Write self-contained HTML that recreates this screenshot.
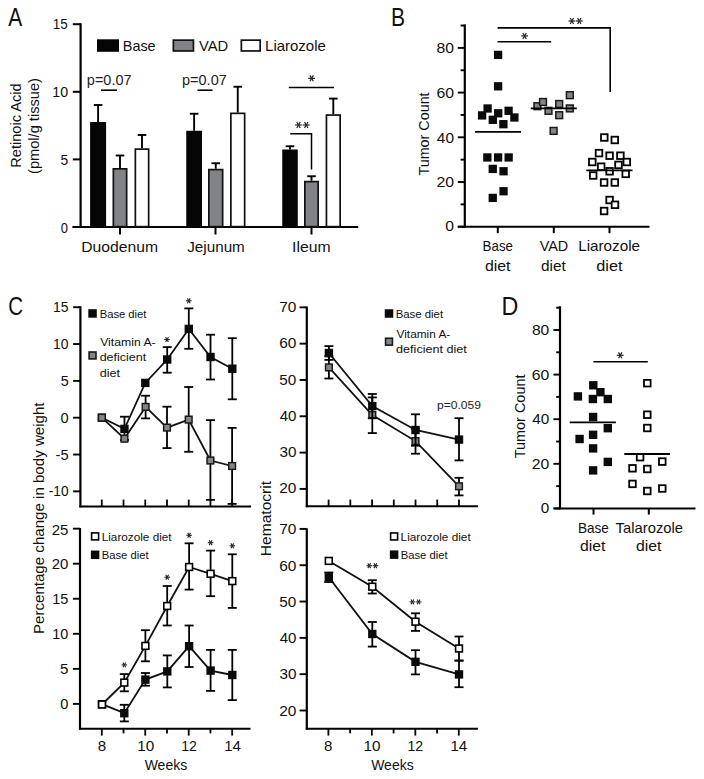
<!DOCTYPE html>
<html><head><meta charset="utf-8"><style>
html,body{margin:0;padding:0;background:#fff;}
svg{display:block;}
text{font-family:"Liberation Sans",sans-serif;}
</style></head><body>
<svg width="704" height="779" viewBox="0 0 704 779">
<rect width="704" height="779" fill="#fff"/>
<text x="8.26" y="25.60" font-size="25.3" fill="#111" textLength="13.98" lengthAdjust="spacingAndGlyphs">A</text>
<line x1="80.60" y1="23.20" x2="80.60" y2="228.00" stroke="#000" stroke-width="2.2" stroke-linecap="butt"/>
<line x1="72.50" y1="227.00" x2="358.20" y2="227.00" stroke="#000" stroke-width="2.0" stroke-linecap="butt"/>
<line x1="72.80" y1="24.20" x2="80.60" y2="24.20" stroke="#000" stroke-width="2.0" stroke-linecap="butt"/>
<line x1="72.80" y1="91.80" x2="80.60" y2="91.80" stroke="#000" stroke-width="2.0" stroke-linecap="butt"/>
<line x1="72.80" y1="159.40" x2="80.60" y2="159.40" stroke="#000" stroke-width="2.0" stroke-linecap="butt"/>
<line x1="72.80" y1="227.00" x2="80.60" y2="227.00" stroke="#000" stroke-width="2.0" stroke-linecap="butt"/>
<text x="52.77" y="29.49" font-size="14.5" fill="#111" textLength="14.99" lengthAdjust="spacingAndGlyphs">15</text>
<text x="52.32" y="96.99" font-size="14.5" fill="#111" textLength="15.84" lengthAdjust="spacingAndGlyphs">10</text>
<text x="60.44" y="164.79" font-size="14.5" fill="#111" textLength="7.74" lengthAdjust="spacingAndGlyphs">5</text>
<text x="60.69" y="232.99" font-size="14.5" fill="#111" textLength="7.21" lengthAdjust="spacingAndGlyphs">0</text>
<text transform="translate(20.80,167.68) rotate(-90)" x="0" y="0" font-size="15.5" fill="#111" textLength="84.21" lengthAdjust="spacingAndGlyphs">Retinoic Acid</text>
<text transform="translate(39.30,173.91) rotate(-90)" x="0" y="0" font-size="15.5" fill="#111" textLength="95.81" lengthAdjust="spacingAndGlyphs">(pmol/g tissue)</text>
<line x1="98.10" y1="122.00" x2="98.10" y2="105.00" stroke="#000" stroke-width="1.9" stroke-linecap="butt"/>
<line x1="93.80" y1="105.00" x2="102.40" y2="105.00" stroke="#000" stroke-width="1.9" stroke-linecap="butt"/>
<rect x="90.10" y="122.00" width="16.00" height="105.00" fill="#050505"/>
<line x1="120.00" y1="168.00" x2="120.00" y2="155.50" stroke="#000" stroke-width="1.9" stroke-linecap="butt"/>
<line x1="115.70" y1="155.50" x2="124.30" y2="155.50" stroke="#000" stroke-width="1.9" stroke-linecap="butt"/>
<rect x="113.35" y="168.85" width="13.30" height="57.80" fill="#828387" stroke="#111" stroke-width="1.7"/>
<line x1="142.00" y1="148.25" x2="142.00" y2="135.00" stroke="#000" stroke-width="1.9" stroke-linecap="butt"/>
<line x1="137.70" y1="135.00" x2="146.30" y2="135.00" stroke="#000" stroke-width="1.9" stroke-linecap="butt"/>
<rect x="135.35" y="149.10" width="13.30" height="77.55" fill="#fff" stroke="#111" stroke-width="1.7"/>
<line x1="194.12" y1="130.75" x2="194.12" y2="113.75" stroke="#000" stroke-width="1.9" stroke-linecap="butt"/>
<line x1="189.82" y1="113.75" x2="198.43" y2="113.75" stroke="#000" stroke-width="1.9" stroke-linecap="butt"/>
<rect x="186.25" y="130.75" width="15.75" height="96.25" fill="#050505"/>
<line x1="215.75" y1="168.75" x2="215.75" y2="163.25" stroke="#000" stroke-width="1.9" stroke-linecap="butt"/>
<line x1="211.45" y1="163.25" x2="220.05" y2="163.25" stroke="#000" stroke-width="1.9" stroke-linecap="butt"/>
<rect x="208.85" y="169.60" width="13.80" height="57.05" fill="#828387" stroke="#111" stroke-width="1.7"/>
<line x1="237.75" y1="112.50" x2="237.75" y2="86.75" stroke="#000" stroke-width="1.9" stroke-linecap="butt"/>
<line x1="233.45" y1="86.75" x2="242.05" y2="86.75" stroke="#000" stroke-width="1.9" stroke-linecap="butt"/>
<rect x="230.85" y="113.35" width="13.80" height="113.30" fill="#fff" stroke="#111" stroke-width="1.7"/>
<line x1="290.00" y1="149.50" x2="290.00" y2="146.25" stroke="#000" stroke-width="1.9" stroke-linecap="butt"/>
<line x1="285.70" y1="146.25" x2="294.30" y2="146.25" stroke="#000" stroke-width="1.9" stroke-linecap="butt"/>
<rect x="282.25" y="149.50" width="15.50" height="77.50" fill="#050505"/>
<line x1="311.50" y1="180.75" x2="311.50" y2="176.25" stroke="#000" stroke-width="1.9" stroke-linecap="butt"/>
<line x1="307.20" y1="176.25" x2="315.80" y2="176.25" stroke="#000" stroke-width="1.9" stroke-linecap="butt"/>
<rect x="304.85" y="181.60" width="13.30" height="45.05" fill="#828387" stroke="#111" stroke-width="1.7"/>
<line x1="333.30" y1="114.20" x2="333.30" y2="98.60" stroke="#000" stroke-width="1.9" stroke-linecap="butt"/>
<line x1="329.00" y1="98.60" x2="337.60" y2="98.60" stroke="#000" stroke-width="1.9" stroke-linecap="butt"/>
<rect x="326.45" y="115.05" width="13.70" height="111.60" fill="#fff" stroke="#111" stroke-width="1.7"/>
<line x1="120.00" y1="227.00" x2="120.00" y2="234.50" stroke="#000" stroke-width="2.0" stroke-linecap="butt"/>
<line x1="215.50" y1="227.00" x2="215.50" y2="234.50" stroke="#000" stroke-width="2.0" stroke-linecap="butt"/>
<line x1="311.50" y1="227.00" x2="311.50" y2="234.50" stroke="#000" stroke-width="2.0" stroke-linecap="butt"/>
<text x="81.21" y="251.50" font-size="15.5" fill="#111" textLength="76.82" lengthAdjust="spacingAndGlyphs">Duodenum</text>
<text x="187.26" y="251.50" font-size="15.5" fill="#111" textLength="57.54" lengthAdjust="spacingAndGlyphs">Jejunum</text>
<text x="292.05" y="251.50" font-size="15.5" fill="#111" textLength="38.49" lengthAdjust="spacingAndGlyphs">Ileum</text>
<rect x="97.00" y="39.30" width="22.00" height="12.50" fill="#050505"/>
<text x="122.82" y="50.60" font-size="14.5" fill="#111" textLength="32.82" lengthAdjust="spacingAndGlyphs">Base</text>
<rect x="173.35" y="40.15" width="20.10" height="10.80" fill="#828387" stroke="#111" stroke-width="1.7"/>
<text x="198.94" y="50.60" font-size="14.5" fill="#111" textLength="29.24" lengthAdjust="spacingAndGlyphs">VAD</text>
<rect x="241.35" y="40.15" width="18.80" height="10.80" fill="#fff" stroke="#111" stroke-width="1.7"/>
<text x="265.07" y="50.60" font-size="14.5" fill="#111" textLength="60.79" lengthAdjust="spacingAndGlyphs">Liarozole</text>
<text x="86.87" y="84.50" font-size="15" fill="#222" textLength="44.66" lengthAdjust="spacingAndGlyphs">p=0.07</text>
<line x1="101.00" y1="90.20" x2="117.00" y2="90.20" stroke="#000" stroke-width="1.6" stroke-linecap="butt"/>
<text x="182.07" y="84.50" font-size="15" fill="#222" textLength="44.66" lengthAdjust="spacingAndGlyphs">p=0.07</text>
<line x1="197.50" y1="90.20" x2="212.50" y2="90.20" stroke="#000" stroke-width="1.6" stroke-linecap="butt"/>
<line x1="308.25" y1="78.35" x2="315.05" y2="78.35" stroke="#222" stroke-width="1.2" stroke-linecap="butt"/>
<line x1="309.95" y1="75.41" x2="313.35" y2="81.29" stroke="#222" stroke-width="1.2" stroke-linecap="butt"/>
<line x1="313.35" y1="75.41" x2="309.95" y2="81.29" stroke="#222" stroke-width="1.2" stroke-linecap="butt"/>
<line x1="288.80" y1="87.50" x2="334.00" y2="87.50" stroke="#000" stroke-width="1.5" stroke-linecap="butt"/>
<line x1="295.10" y1="125.00" x2="301.90" y2="125.00" stroke="#222" stroke-width="1.2" stroke-linecap="butt"/>
<line x1="296.80" y1="122.06" x2="300.20" y2="127.94" stroke="#222" stroke-width="1.2" stroke-linecap="butt"/>
<line x1="300.20" y1="122.06" x2="296.80" y2="127.94" stroke="#222" stroke-width="1.2" stroke-linecap="butt"/>
<line x1="302.80" y1="125.00" x2="309.60" y2="125.00" stroke="#222" stroke-width="1.2" stroke-linecap="butt"/>
<line x1="304.50" y1="122.06" x2="307.90" y2="127.94" stroke="#222" stroke-width="1.2" stroke-linecap="butt"/>
<line x1="307.90" y1="122.06" x2="304.50" y2="127.94" stroke="#222" stroke-width="1.2" stroke-linecap="butt"/>
<polyline points="290.20,133.80 311.50,133.80 311.50,169.50" fill="none" stroke="#000" stroke-width="1.5" stroke-linejoin="miter"/>
<text x="391.07" y="25.60" font-size="25.3" fill="#111" textLength="14.04" lengthAdjust="spacingAndGlyphs">B</text>
<line x1="464.80" y1="24.40" x2="464.80" y2="227.70" stroke="#000" stroke-width="2.2" stroke-linecap="butt"/>
<line x1="457.80" y1="226.70" x2="649.50" y2="226.70" stroke="#000" stroke-width="2.0" stroke-linecap="butt"/>
<line x1="457.80" y1="226.70" x2="464.80" y2="226.70" stroke="#000" stroke-width="1.9" stroke-linecap="butt"/>
<line x1="460.60" y1="204.35" x2="464.80" y2="204.35" stroke="#000" stroke-width="1.9" stroke-linecap="butt"/>
<line x1="457.80" y1="182.00" x2="464.80" y2="182.00" stroke="#000" stroke-width="1.9" stroke-linecap="butt"/>
<line x1="460.60" y1="159.65" x2="464.80" y2="159.65" stroke="#000" stroke-width="1.9" stroke-linecap="butt"/>
<line x1="457.80" y1="137.30" x2="464.80" y2="137.30" stroke="#000" stroke-width="1.9" stroke-linecap="butt"/>
<line x1="460.60" y1="114.95" x2="464.80" y2="114.95" stroke="#000" stroke-width="1.9" stroke-linecap="butt"/>
<line x1="457.80" y1="92.60" x2="464.80" y2="92.60" stroke="#000" stroke-width="1.9" stroke-linecap="butt"/>
<line x1="460.60" y1="70.25" x2="464.80" y2="70.25" stroke="#000" stroke-width="1.9" stroke-linecap="butt"/>
<line x1="457.80" y1="47.90" x2="464.80" y2="47.90" stroke="#000" stroke-width="1.9" stroke-linecap="butt"/>
<line x1="460.60" y1="25.55" x2="464.80" y2="25.55" stroke="#000" stroke-width="1.9" stroke-linecap="butt"/>
<text x="436.52" y="53.19" font-size="14.5" fill="#111" textLength="17.50" lengthAdjust="spacingAndGlyphs">80</text>
<text x="436.40" y="97.89" font-size="14.5" fill="#111" textLength="17.62" lengthAdjust="spacingAndGlyphs">60</text>
<text x="436.85" y="142.59" font-size="14.5" fill="#111" textLength="17.16" lengthAdjust="spacingAndGlyphs">40</text>
<text x="436.40" y="187.29" font-size="14.5" fill="#111" textLength="17.62" lengthAdjust="spacingAndGlyphs">20</text>
<text x="445.29" y="231.39" font-size="14.5" fill="#111" textLength="8.73" lengthAdjust="spacingAndGlyphs">0</text>
<text transform="translate(429.40,175.52) rotate(-90)" x="0" y="0" font-size="15" fill="#111" textLength="83.12" lengthAdjust="spacingAndGlyphs">Tumor Count</text>
<line x1="497.80" y1="226.70" x2="497.80" y2="233.20" stroke="#000" stroke-width="2.0" stroke-linecap="butt"/>
<line x1="553.80" y1="226.70" x2="553.80" y2="233.20" stroke="#000" stroke-width="2.0" stroke-linecap="butt"/>
<line x1="609.50" y1="226.70" x2="609.50" y2="233.20" stroke="#000" stroke-width="2.0" stroke-linecap="butt"/>
<text x="482.61" y="251.10" font-size="14.5" fill="#111" textLength="30.39" lengthAdjust="spacingAndGlyphs">Base</text>
<text x="484.93" y="270.60" font-size="14.5" fill="#111" textLength="25.58" lengthAdjust="spacingAndGlyphs">diet</text>
<text x="539.74" y="251.10" font-size="14.5" fill="#111" textLength="28.52" lengthAdjust="spacingAndGlyphs">VAD</text>
<text x="540.96" y="270.60" font-size="14.5" fill="#111" textLength="24.76" lengthAdjust="spacingAndGlyphs">diet</text>
<text x="578.25" y="251.10" font-size="14.5" fill="#111" textLength="61.72" lengthAdjust="spacingAndGlyphs">Liarozole</text>
<text x="596.32" y="270.60" font-size="14.5" fill="#111" textLength="26.20" lengthAdjust="spacingAndGlyphs">diet</text>
<polyline points="497.60,27.90 610.20,27.90 610.20,92.00" fill="none" stroke="#000" stroke-width="1.6" stroke-linejoin="miter"/>
<line x1="497.60" y1="41.80" x2="551.20" y2="41.80" stroke="#000" stroke-width="1.6" stroke-linecap="butt"/>
<line x1="521.20" y1="35.90" x2="528.00" y2="35.90" stroke="#222" stroke-width="1.2" stroke-linecap="butt"/>
<line x1="522.90" y1="32.96" x2="526.30" y2="38.84" stroke="#222" stroke-width="1.2" stroke-linecap="butt"/>
<line x1="526.30" y1="32.96" x2="522.90" y2="38.84" stroke="#222" stroke-width="1.2" stroke-linecap="butt"/>
<line x1="568.50" y1="21.00" x2="575.30" y2="21.00" stroke="#222" stroke-width="1.2" stroke-linecap="butt"/>
<line x1="570.20" y1="18.06" x2="573.60" y2="23.94" stroke="#222" stroke-width="1.2" stroke-linecap="butt"/>
<line x1="573.60" y1="18.06" x2="570.20" y2="23.94" stroke="#222" stroke-width="1.2" stroke-linecap="butt"/>
<line x1="575.90" y1="21.00" x2="582.70" y2="21.00" stroke="#222" stroke-width="1.2" stroke-linecap="butt"/>
<line x1="577.60" y1="18.06" x2="581.00" y2="23.94" stroke="#222" stroke-width="1.2" stroke-linecap="butt"/>
<line x1="581.00" y1="18.06" x2="577.60" y2="23.94" stroke="#222" stroke-width="1.2" stroke-linecap="butt"/>
<rect x="493.95" y="50.75" width="8.30" height="8.30" fill="#0a0a0a"/>
<rect x="493.95" y="82.15" width="8.30" height="8.30" fill="#0a0a0a"/>
<rect x="483.45" y="104.35" width="8.30" height="8.30" fill="#0a0a0a"/>
<rect x="477.95" y="111.25" width="8.30" height="8.30" fill="#0a0a0a"/>
<rect x="494.05" y="109.15" width="8.30" height="8.30" fill="#0a0a0a"/>
<rect x="488.65" y="115.65" width="8.30" height="8.30" fill="#0a0a0a"/>
<rect x="504.45" y="106.65" width="8.30" height="8.30" fill="#0a0a0a"/>
<rect x="510.25" y="113.35" width="8.30" height="8.30" fill="#0a0a0a"/>
<rect x="499.25" y="120.05" width="8.30" height="8.30" fill="#0a0a0a"/>
<rect x="483.20" y="153.30" width="8.30" height="8.30" fill="#0a0a0a"/>
<rect x="493.95" y="153.30" width="8.30" height="8.30" fill="#0a0a0a"/>
<rect x="504.50" y="153.30" width="8.30" height="8.30" fill="#0a0a0a"/>
<rect x="488.60" y="164.75" width="8.30" height="8.30" fill="#0a0a0a"/>
<rect x="499.40" y="167.10" width="8.30" height="8.30" fill="#0a0a0a"/>
<rect x="499.40" y="187.10" width="8.30" height="8.30" fill="#0a0a0a"/>
<rect x="488.60" y="193.75" width="8.30" height="8.30" fill="#0a0a0a"/>
<line x1="475.10" y1="131.80" x2="521.10" y2="131.80" stroke="#000" stroke-width="1.8" stroke-linecap="butt"/>
<rect x="534.00" y="102.80" width="6.80" height="6.80" fill="#858585" stroke="#1a1a1a" stroke-width="1.5"/>
<rect x="539.60" y="98.60" width="6.80" height="6.80" fill="#858585" stroke="#1a1a1a" stroke-width="1.5"/>
<rect x="545.10" y="107.40" width="6.80" height="6.80" fill="#858585" stroke="#1a1a1a" stroke-width="1.5"/>
<rect x="555.80" y="100.60" width="6.80" height="6.80" fill="#858585" stroke="#1a1a1a" stroke-width="1.5"/>
<rect x="555.80" y="111.80" width="6.80" height="6.80" fill="#858585" stroke="#1a1a1a" stroke-width="1.5"/>
<rect x="566.40" y="91.80" width="6.80" height="6.80" fill="#858585" stroke="#1a1a1a" stroke-width="1.5"/>
<rect x="566.40" y="105.00" width="6.80" height="6.80" fill="#858585" stroke="#1a1a1a" stroke-width="1.5"/>
<rect x="550.20" y="127.50" width="6.80" height="6.80" fill="#858585" stroke="#1a1a1a" stroke-width="1.5"/>
<line x1="530.80" y1="108.40" x2="576.80" y2="108.40" stroke="#000" stroke-width="1.8" stroke-linecap="butt"/>
<rect x="601.00" y="134.20" width="6.60" height="6.60" fill="#fff" stroke="#000" stroke-width="1.8"/>
<rect x="611.50" y="136.70" width="6.60" height="6.60" fill="#fff" stroke="#000" stroke-width="1.8"/>
<rect x="595.70" y="149.80" width="6.60" height="6.60" fill="#fff" stroke="#000" stroke-width="1.8"/>
<rect x="606.30" y="152.40" width="6.60" height="6.60" fill="#fff" stroke="#000" stroke-width="1.8"/>
<rect x="617.10" y="152.40" width="6.60" height="6.60" fill="#fff" stroke="#000" stroke-width="1.8"/>
<rect x="589.00" y="158.70" width="6.60" height="6.60" fill="#fff" stroke="#000" stroke-width="1.8"/>
<rect x="623.50" y="158.70" width="6.60" height="6.60" fill="#fff" stroke="#000" stroke-width="1.8"/>
<rect x="597.90" y="163.40" width="6.60" height="6.60" fill="#fff" stroke="#000" stroke-width="1.8"/>
<rect x="615.20" y="161.60" width="6.60" height="6.60" fill="#fff" stroke="#000" stroke-width="1.8"/>
<rect x="606.30" y="168.00" width="6.60" height="6.60" fill="#fff" stroke="#000" stroke-width="1.8"/>
<rect x="589.90" y="172.20" width="6.60" height="6.60" fill="#fff" stroke="#000" stroke-width="1.8"/>
<rect x="622.40" y="170.60" width="6.60" height="6.60" fill="#fff" stroke="#000" stroke-width="1.8"/>
<rect x="600.80" y="179.20" width="6.60" height="6.60" fill="#fff" stroke="#000" stroke-width="1.8"/>
<rect x="611.50" y="179.20" width="6.60" height="6.60" fill="#fff" stroke="#000" stroke-width="1.8"/>
<rect x="606.30" y="196.70" width="6.60" height="6.60" fill="#fff" stroke="#000" stroke-width="1.8"/>
<rect x="611.70" y="201.50" width="6.60" height="6.60" fill="#fff" stroke="#000" stroke-width="1.8"/>
<rect x="600.80" y="207.70" width="6.60" height="6.60" fill="#fff" stroke="#000" stroke-width="1.8"/>
<line x1="586.30" y1="170.40" x2="632.50" y2="170.40" stroke="#000" stroke-width="1.8" stroke-linecap="butt"/>
<text x="8.16" y="315.30" font-size="25.3" fill="#111" textLength="14.82" lengthAdjust="spacingAndGlyphs">C</text>
<line x1="80.40" y1="306.20" x2="80.40" y2="507.30" stroke="#000" stroke-width="2.2" stroke-linecap="butt"/>
<line x1="79.30" y1="506.50" x2="251.00" y2="506.50" stroke="#000" stroke-width="2.1" stroke-linecap="butt"/>
<line x1="73.10" y1="307.21" x2="80.40" y2="307.21" stroke="#000" stroke-width="1.9" stroke-linecap="butt"/>
<line x1="73.10" y1="344.04" x2="80.40" y2="344.04" stroke="#000" stroke-width="1.9" stroke-linecap="butt"/>
<line x1="73.10" y1="380.87" x2="80.40" y2="380.87" stroke="#000" stroke-width="1.9" stroke-linecap="butt"/>
<line x1="73.10" y1="417.70" x2="80.40" y2="417.70" stroke="#000" stroke-width="1.9" stroke-linecap="butt"/>
<line x1="73.10" y1="454.53" x2="80.40" y2="454.53" stroke="#000" stroke-width="1.9" stroke-linecap="butt"/>
<line x1="73.10" y1="491.36" x2="80.40" y2="491.36" stroke="#000" stroke-width="1.9" stroke-linecap="butt"/>
<line x1="101.80" y1="499.60" x2="101.80" y2="506.50" stroke="#000" stroke-width="1.8" stroke-linecap="butt"/>
<line x1="123.53" y1="499.60" x2="123.53" y2="506.50" stroke="#000" stroke-width="1.8" stroke-linecap="butt"/>
<line x1="145.26" y1="499.60" x2="145.26" y2="506.50" stroke="#000" stroke-width="1.8" stroke-linecap="butt"/>
<line x1="166.99" y1="499.60" x2="166.99" y2="506.50" stroke="#000" stroke-width="1.8" stroke-linecap="butt"/>
<line x1="188.72" y1="499.60" x2="188.72" y2="506.50" stroke="#000" stroke-width="1.8" stroke-linecap="butt"/>
<line x1="210.45" y1="499.60" x2="210.45" y2="506.50" stroke="#000" stroke-width="1.8" stroke-linecap="butt"/>
<line x1="232.18" y1="499.60" x2="232.18" y2="506.50" stroke="#000" stroke-width="1.8" stroke-linecap="butt"/>
<text x="53.03" y="312.19" font-size="14.5" fill="#111" textLength="15.55" lengthAdjust="spacingAndGlyphs">15</text>
<text x="53.04" y="348.79" font-size="14.5" fill="#111" textLength="15.51" lengthAdjust="spacingAndGlyphs">10</text>
<text x="60.63" y="385.59" font-size="14.5" fill="#111" textLength="7.98" lengthAdjust="spacingAndGlyphs">5</text>
<text x="60.43" y="422.89" font-size="14.5" fill="#111" textLength="8.14" lengthAdjust="spacingAndGlyphs">0</text>
<text x="55.55" y="459.59" font-size="14.5" fill="#111" textLength="13.07" lengthAdjust="spacingAndGlyphs">-5</text>
<text x="48.69" y="496.39" font-size="14.5" fill="#111" textLength="19.85" lengthAdjust="spacingAndGlyphs">-10</text>
<polyline points="101.85,417.70 124.45,428.90 145.30,382.90 167.20,359.50 188.80,328.90 210.50,357.00 232.30,368.70" fill="none" stroke="#111" stroke-width="1.8" stroke-linejoin="miter"/>
<polyline points="101.85,417.65 124.45,438.70 145.60,406.90 167.00,427.60 188.70,419.60 210.40,460.50 232.10,466.00" fill="none" stroke="#111" stroke-width="1.8" stroke-linejoin="miter"/>
<line x1="124.45" y1="416.70" x2="124.45" y2="440.10" stroke="#000" stroke-width="1.8" stroke-linecap="butt"/>
<line x1="119.95" y1="416.70" x2="128.95" y2="416.70" stroke="#000" stroke-width="1.8" stroke-linecap="butt"/>
<line x1="119.95" y1="440.10" x2="128.95" y2="440.10" stroke="#000" stroke-width="1.8" stroke-linecap="butt"/>
<line x1="167.20" y1="347.10" x2="167.20" y2="372.70" stroke="#000" stroke-width="1.8" stroke-linecap="butt"/>
<line x1="162.70" y1="347.10" x2="171.70" y2="347.10" stroke="#000" stroke-width="1.8" stroke-linecap="butt"/>
<line x1="162.70" y1="372.70" x2="171.70" y2="372.70" stroke="#000" stroke-width="1.8" stroke-linecap="butt"/>
<line x1="188.80" y1="308.40" x2="188.80" y2="348.80" stroke="#000" stroke-width="1.8" stroke-linecap="butt"/>
<line x1="184.30" y1="308.40" x2="193.30" y2="308.40" stroke="#000" stroke-width="1.8" stroke-linecap="butt"/>
<line x1="184.30" y1="348.80" x2="193.30" y2="348.80" stroke="#000" stroke-width="1.8" stroke-linecap="butt"/>
<line x1="210.50" y1="334.70" x2="210.50" y2="379.50" stroke="#000" stroke-width="1.8" stroke-linecap="butt"/>
<line x1="206.00" y1="334.70" x2="215.00" y2="334.70" stroke="#000" stroke-width="1.8" stroke-linecap="butt"/>
<line x1="206.00" y1="379.50" x2="215.00" y2="379.50" stroke="#000" stroke-width="1.8" stroke-linecap="butt"/>
<line x1="232.30" y1="338.20" x2="232.30" y2="399.30" stroke="#000" stroke-width="1.8" stroke-linecap="butt"/>
<line x1="227.80" y1="338.20" x2="236.80" y2="338.20" stroke="#000" stroke-width="1.8" stroke-linecap="butt"/>
<line x1="227.80" y1="399.30" x2="236.80" y2="399.30" stroke="#000" stroke-width="1.8" stroke-linecap="butt"/>
<rect x="97.65" y="413.50" width="8.40" height="8.40" fill="#0a0a0a"/>
<rect x="120.25" y="424.70" width="8.40" height="8.40" fill="#0a0a0a"/>
<rect x="141.10" y="378.70" width="8.40" height="8.40" fill="#0a0a0a"/>
<rect x="163.00" y="355.30" width="8.40" height="8.40" fill="#0a0a0a"/>
<rect x="184.60" y="324.70" width="8.40" height="8.40" fill="#0a0a0a"/>
<rect x="206.30" y="352.80" width="8.40" height="8.40" fill="#0a0a0a"/>
<rect x="228.10" y="364.50" width="8.40" height="8.40" fill="#0a0a0a"/>
<line x1="145.60" y1="395.70" x2="145.60" y2="418.40" stroke="#000" stroke-width="1.8" stroke-linecap="butt"/>
<line x1="141.10" y1="395.70" x2="150.10" y2="395.70" stroke="#000" stroke-width="1.8" stroke-linecap="butt"/>
<line x1="141.10" y1="418.40" x2="150.10" y2="418.40" stroke="#000" stroke-width="1.8" stroke-linecap="butt"/>
<line x1="167.00" y1="406.70" x2="167.00" y2="448.10" stroke="#000" stroke-width="1.8" stroke-linecap="butt"/>
<line x1="162.50" y1="406.70" x2="171.50" y2="406.70" stroke="#000" stroke-width="1.8" stroke-linecap="butt"/>
<line x1="162.50" y1="448.10" x2="171.50" y2="448.10" stroke="#000" stroke-width="1.8" stroke-linecap="butt"/>
<line x1="188.70" y1="387.00" x2="188.70" y2="451.80" stroke="#000" stroke-width="1.8" stroke-linecap="butt"/>
<line x1="184.20" y1="387.00" x2="193.20" y2="387.00" stroke="#000" stroke-width="1.8" stroke-linecap="butt"/>
<line x1="184.20" y1="451.80" x2="193.20" y2="451.80" stroke="#000" stroke-width="1.8" stroke-linecap="butt"/>
<line x1="210.40" y1="420.10" x2="210.40" y2="499.90" stroke="#000" stroke-width="1.8" stroke-linecap="butt"/>
<line x1="205.90" y1="420.10" x2="214.90" y2="420.10" stroke="#000" stroke-width="1.8" stroke-linecap="butt"/>
<line x1="205.90" y1="499.90" x2="214.90" y2="499.90" stroke="#000" stroke-width="1.8" stroke-linecap="butt"/>
<line x1="232.10" y1="427.90" x2="232.10" y2="503.90" stroke="#000" stroke-width="1.8" stroke-linecap="butt"/>
<line x1="227.60" y1="427.90" x2="236.60" y2="427.90" stroke="#000" stroke-width="1.8" stroke-linecap="butt"/>
<line x1="227.60" y1="503.90" x2="236.60" y2="503.90" stroke="#000" stroke-width="1.8" stroke-linecap="butt"/>
<rect x="98.50" y="414.30" width="6.70" height="6.70" fill="#858585" stroke="#1a1a1a" stroke-width="1.5"/>
<rect x="121.10" y="435.35" width="6.70" height="6.70" fill="#858585" stroke="#1a1a1a" stroke-width="1.5"/>
<rect x="142.25" y="403.55" width="6.70" height="6.70" fill="#858585" stroke="#1a1a1a" stroke-width="1.5"/>
<rect x="163.65" y="424.25" width="6.70" height="6.70" fill="#858585" stroke="#1a1a1a" stroke-width="1.5"/>
<rect x="185.35" y="416.25" width="6.70" height="6.70" fill="#858585" stroke="#1a1a1a" stroke-width="1.5"/>
<rect x="207.05" y="457.15" width="6.70" height="6.70" fill="#858585" stroke="#1a1a1a" stroke-width="1.5"/>
<rect x="228.75" y="462.65" width="6.70" height="6.70" fill="#858585" stroke="#1a1a1a" stroke-width="1.5"/>
<line x1="164.20" y1="339.60" x2="169.80" y2="339.60" stroke="#222" stroke-width="1.1" stroke-linecap="butt"/>
<line x1="165.60" y1="337.18" x2="168.40" y2="342.02" stroke="#222" stroke-width="1.1" stroke-linecap="butt"/>
<line x1="168.40" y1="337.18" x2="165.60" y2="342.02" stroke="#222" stroke-width="1.1" stroke-linecap="butt"/>
<line x1="186.00" y1="300.80" x2="191.60" y2="300.80" stroke="#222" stroke-width="1.1" stroke-linecap="butt"/>
<line x1="187.40" y1="298.38" x2="190.20" y2="303.22" stroke="#222" stroke-width="1.1" stroke-linecap="butt"/>
<line x1="190.20" y1="298.38" x2="187.40" y2="303.22" stroke="#222" stroke-width="1.1" stroke-linecap="butt"/>
<rect x="88.30" y="309.20" width="8.50" height="8.50" fill="#0a0a0a"/>
<text x="99.68" y="318.30" font-size="11.6" fill="#111" textLength="46.80" lengthAdjust="spacingAndGlyphs">Base diet</text>
<rect x="89.10" y="352.00" width="6.90" height="6.90" fill="#858585" stroke="#1a1a1a" stroke-width="1.6"/>
<text x="100.15" y="346.20" font-size="11.6" fill="#111" textLength="55.49" lengthAdjust="spacingAndGlyphs">Vitamin A-</text>
<text x="99.67" y="361.30" font-size="11.6" fill="#111" textLength="46.62" lengthAdjust="spacingAndGlyphs">deficient</text>
<text x="99.67" y="376.60" font-size="11.6" fill="#111" textLength="20.42" lengthAdjust="spacingAndGlyphs">diet</text>
<line x1="306.80" y1="306.50" x2="306.80" y2="507.20" stroke="#000" stroke-width="2.2" stroke-linecap="butt"/>
<line x1="305.80" y1="506.30" x2="477.90" y2="506.30" stroke="#000" stroke-width="2.1" stroke-linecap="butt"/>
<line x1="299.60" y1="307.35" x2="306.80" y2="307.35" stroke="#000" stroke-width="1.9" stroke-linecap="butt"/>
<text x="279.21" y="311.94" font-size="14.5" fill="#111" textLength="17.20" lengthAdjust="spacingAndGlyphs">70</text>
<line x1="299.60" y1="343.66" x2="306.80" y2="343.66" stroke="#000" stroke-width="1.9" stroke-linecap="butt"/>
<text x="279.22" y="348.25" font-size="14.5" fill="#111" textLength="17.19" lengthAdjust="spacingAndGlyphs">60</text>
<line x1="299.60" y1="379.97" x2="306.80" y2="379.97" stroke="#000" stroke-width="1.9" stroke-linecap="butt"/>
<text x="279.39" y="384.56" font-size="14.5" fill="#111" textLength="17.01" lengthAdjust="spacingAndGlyphs">50</text>
<line x1="299.60" y1="416.28" x2="306.80" y2="416.28" stroke="#000" stroke-width="1.9" stroke-linecap="butt"/>
<text x="279.65" y="420.87" font-size="14.5" fill="#111" textLength="16.73" lengthAdjust="spacingAndGlyphs">40</text>
<line x1="299.60" y1="452.59" x2="306.80" y2="452.59" stroke="#000" stroke-width="1.9" stroke-linecap="butt"/>
<text x="279.42" y="457.18" font-size="14.5" fill="#111" textLength="16.98" lengthAdjust="spacingAndGlyphs">30</text>
<line x1="299.60" y1="488.90" x2="306.80" y2="488.90" stroke="#000" stroke-width="1.9" stroke-linecap="butt"/>
<text x="279.22" y="493.49" font-size="14.5" fill="#111" textLength="17.18" lengthAdjust="spacingAndGlyphs">20</text>
<line x1="328.60" y1="499.60" x2="328.60" y2="506.30" stroke="#000" stroke-width="1.8" stroke-linecap="butt"/>
<line x1="350.33" y1="499.60" x2="350.33" y2="506.30" stroke="#000" stroke-width="1.8" stroke-linecap="butt"/>
<line x1="372.06" y1="499.60" x2="372.06" y2="506.30" stroke="#000" stroke-width="1.8" stroke-linecap="butt"/>
<line x1="393.79" y1="499.60" x2="393.79" y2="506.30" stroke="#000" stroke-width="1.8" stroke-linecap="butt"/>
<line x1="415.52" y1="499.60" x2="415.52" y2="506.30" stroke="#000" stroke-width="1.8" stroke-linecap="butt"/>
<line x1="437.25" y1="499.60" x2="437.25" y2="506.30" stroke="#000" stroke-width="1.8" stroke-linecap="butt"/>
<line x1="458.98" y1="499.60" x2="458.98" y2="506.30" stroke="#000" stroke-width="1.8" stroke-linecap="butt"/>
<polyline points="328.90,353.00 372.30,406.10 415.50,430.00 459.00,439.60" fill="none" stroke="#111" stroke-width="1.8" stroke-linejoin="miter"/>
<polyline points="328.90,367.40 372.30,415.00 415.50,441.10 459.00,486.30" fill="none" stroke="#111" stroke-width="1.8" stroke-linejoin="miter"/>
<line x1="328.90" y1="356.30" x2="328.90" y2="378.50" stroke="#000" stroke-width="1.8" stroke-linecap="butt"/>
<line x1="324.40" y1="356.30" x2="333.40" y2="356.30" stroke="#000" stroke-width="1.8" stroke-linecap="butt"/>
<line x1="324.40" y1="378.50" x2="333.40" y2="378.50" stroke="#000" stroke-width="1.8" stroke-linecap="butt"/>
<line x1="372.30" y1="397.40" x2="372.30" y2="433.10" stroke="#000" stroke-width="1.8" stroke-linecap="butt"/>
<line x1="367.80" y1="397.40" x2="376.80" y2="397.40" stroke="#000" stroke-width="1.8" stroke-linecap="butt"/>
<line x1="367.80" y1="433.10" x2="376.80" y2="433.10" stroke="#000" stroke-width="1.8" stroke-linecap="butt"/>
<line x1="415.50" y1="428.50" x2="415.50" y2="453.70" stroke="#000" stroke-width="1.8" stroke-linecap="butt"/>
<line x1="411.00" y1="428.50" x2="420.00" y2="428.50" stroke="#000" stroke-width="1.8" stroke-linecap="butt"/>
<line x1="411.00" y1="453.70" x2="420.00" y2="453.70" stroke="#000" stroke-width="1.8" stroke-linecap="butt"/>
<line x1="459.00" y1="477.80" x2="459.00" y2="495.40" stroke="#000" stroke-width="1.8" stroke-linecap="butt"/>
<line x1="454.50" y1="477.80" x2="463.50" y2="477.80" stroke="#000" stroke-width="1.8" stroke-linecap="butt"/>
<line x1="454.50" y1="495.40" x2="463.50" y2="495.40" stroke="#000" stroke-width="1.8" stroke-linecap="butt"/>
<rect x="325.55" y="364.05" width="6.70" height="6.70" fill="#858585" stroke="#1a1a1a" stroke-width="1.5"/>
<rect x="368.95" y="411.65" width="6.70" height="6.70" fill="#858585" stroke="#1a1a1a" stroke-width="1.5"/>
<rect x="412.15" y="437.75" width="6.70" height="6.70" fill="#858585" stroke="#1a1a1a" stroke-width="1.5"/>
<rect x="455.65" y="482.95" width="6.70" height="6.70" fill="#858585" stroke="#1a1a1a" stroke-width="1.5"/>
<line x1="328.90" y1="346.10" x2="328.90" y2="359.90" stroke="#000" stroke-width="1.8" stroke-linecap="butt"/>
<line x1="324.40" y1="346.10" x2="333.40" y2="346.10" stroke="#000" stroke-width="1.8" stroke-linecap="butt"/>
<line x1="324.40" y1="359.90" x2="333.40" y2="359.90" stroke="#000" stroke-width="1.8" stroke-linecap="butt"/>
<line x1="372.30" y1="394.00" x2="372.30" y2="418.20" stroke="#000" stroke-width="1.8" stroke-linecap="butt"/>
<line x1="367.80" y1="394.00" x2="376.80" y2="394.00" stroke="#000" stroke-width="1.8" stroke-linecap="butt"/>
<line x1="367.80" y1="418.20" x2="376.80" y2="418.20" stroke="#000" stroke-width="1.8" stroke-linecap="butt"/>
<line x1="415.50" y1="414.30" x2="415.50" y2="445.70" stroke="#000" stroke-width="1.8" stroke-linecap="butt"/>
<line x1="411.00" y1="414.30" x2="420.00" y2="414.30" stroke="#000" stroke-width="1.8" stroke-linecap="butt"/>
<line x1="411.00" y1="445.70" x2="420.00" y2="445.70" stroke="#000" stroke-width="1.8" stroke-linecap="butt"/>
<line x1="459.00" y1="418.20" x2="459.00" y2="460.40" stroke="#000" stroke-width="1.8" stroke-linecap="butt"/>
<line x1="454.50" y1="418.20" x2="463.50" y2="418.20" stroke="#000" stroke-width="1.8" stroke-linecap="butt"/>
<line x1="454.50" y1="460.40" x2="463.50" y2="460.40" stroke="#000" stroke-width="1.8" stroke-linecap="butt"/>
<rect x="324.70" y="348.80" width="8.40" height="8.40" fill="#0a0a0a"/>
<rect x="368.10" y="401.90" width="8.40" height="8.40" fill="#0a0a0a"/>
<rect x="411.30" y="425.80" width="8.40" height="8.40" fill="#0a0a0a"/>
<rect x="454.80" y="435.40" width="8.40" height="8.40" fill="#0a0a0a"/>
<text x="437.02" y="408.70" font-size="11.2" fill="#222" textLength="43.95" lengthAdjust="spacingAndGlyphs">p=0.059</text>
<rect x="384.75" y="309.25" width="8.50" height="8.50" fill="#0a0a0a"/>
<text x="395.67" y="318.20" font-size="11.6" fill="#111" textLength="47.42" lengthAdjust="spacingAndGlyphs">Base diet</text>
<rect x="385.55" y="338.25" width="6.90" height="6.90" fill="#858585" stroke="#1a1a1a" stroke-width="1.6"/>
<text x="396.55" y="338.00" font-size="11.6" fill="#111" textLength="53.77" lengthAdjust="spacingAndGlyphs">Vitamin A-</text>
<text x="396.07" y="353.40" font-size="11.6" fill="#111" textLength="70.82" lengthAdjust="spacingAndGlyphs">deficient diet</text>
<line x1="80.00" y1="528.00" x2="80.00" y2="729.60" stroke="#000" stroke-width="2.2" stroke-linecap="butt"/>
<line x1="79.00" y1="728.70" x2="250.50" y2="728.70" stroke="#000" stroke-width="2.1" stroke-linecap="butt"/>
<line x1="72.90" y1="528.65" x2="80.00" y2="528.65" stroke="#000" stroke-width="1.9" stroke-linecap="butt"/>
<line x1="72.90" y1="563.70" x2="80.00" y2="563.70" stroke="#000" stroke-width="1.9" stroke-linecap="butt"/>
<line x1="72.90" y1="598.75" x2="80.00" y2="598.75" stroke="#000" stroke-width="1.9" stroke-linecap="butt"/>
<line x1="72.90" y1="633.80" x2="80.00" y2="633.80" stroke="#000" stroke-width="1.9" stroke-linecap="butt"/>
<line x1="72.90" y1="668.85" x2="80.00" y2="668.85" stroke="#000" stroke-width="1.9" stroke-linecap="butt"/>
<line x1="72.90" y1="703.90" x2="80.00" y2="703.90" stroke="#000" stroke-width="1.9" stroke-linecap="butt"/>
<text x="51.75" y="534.69" font-size="14.5" fill="#111" textLength="16.68" lengthAdjust="spacingAndGlyphs">25</text>
<text x="51.75" y="569.29" font-size="14.5" fill="#111" textLength="16.64" lengthAdjust="spacingAndGlyphs">20</text>
<text x="52.30" y="604.49" font-size="14.5" fill="#111" textLength="16.11" lengthAdjust="spacingAndGlyphs">15</text>
<text x="52.30" y="639.29" font-size="14.5" fill="#111" textLength="16.06" lengthAdjust="spacingAndGlyphs">10</text>
<text x="59.99" y="673.99" font-size="14.5" fill="#111" textLength="8.45" lengthAdjust="spacingAndGlyphs">5</text>
<text x="60.23" y="709.19" font-size="14.5" fill="#111" textLength="8.14" lengthAdjust="spacingAndGlyphs">0</text>
<line x1="101.80" y1="728.70" x2="101.80" y2="735.60" stroke="#000" stroke-width="1.8" stroke-linecap="butt"/>
<line x1="123.53" y1="728.70" x2="123.53" y2="733.40" stroke="#000" stroke-width="1.8" stroke-linecap="butt"/>
<line x1="145.26" y1="728.70" x2="145.26" y2="735.60" stroke="#000" stroke-width="1.8" stroke-linecap="butt"/>
<line x1="166.99" y1="728.70" x2="166.99" y2="733.40" stroke="#000" stroke-width="1.8" stroke-linecap="butt"/>
<line x1="188.72" y1="728.70" x2="188.72" y2="735.60" stroke="#000" stroke-width="1.8" stroke-linecap="butt"/>
<line x1="210.45" y1="728.70" x2="210.45" y2="733.40" stroke="#000" stroke-width="1.8" stroke-linecap="butt"/>
<line x1="232.18" y1="728.70" x2="232.18" y2="735.60" stroke="#000" stroke-width="1.8" stroke-linecap="butt"/>
<text x="97.74" y="751.39" font-size="14.5" fill="#111" textLength="8.42" lengthAdjust="spacingAndGlyphs">8</text>
<text x="137.34" y="751.39" font-size="14.5" fill="#111" textLength="16.96" lengthAdjust="spacingAndGlyphs">10</text>
<text x="181.13" y="751.39" font-size="14.5" fill="#111" textLength="15.68" lengthAdjust="spacingAndGlyphs">12</text>
<text x="224.15" y="751.39" font-size="14.5" fill="#111" textLength="16.79" lengthAdjust="spacingAndGlyphs">14</text>
<text x="144.64" y="769.90" font-size="15" fill="#111" textLength="42.56" lengthAdjust="spacingAndGlyphs">Weeks</text>
<polyline points="102.00,704.20 124.30,713.20 145.40,679.60 167.30,671.40 189.10,646.20 210.60,670.60 232.30,675.00" fill="none" stroke="#111" stroke-width="1.8" stroke-linejoin="miter"/>
<polyline points="102.00,704.50 124.30,682.60 145.40,645.90 167.20,606.00 189.10,567.00 210.60,573.80 232.30,581.10" fill="none" stroke="#111" stroke-width="1.8" stroke-linejoin="miter"/>
<line x1="124.30" y1="704.80" x2="124.30" y2="721.40" stroke="#000" stroke-width="1.8" stroke-linecap="butt"/>
<line x1="119.80" y1="704.80" x2="128.80" y2="704.80" stroke="#000" stroke-width="1.8" stroke-linecap="butt"/>
<line x1="119.80" y1="721.40" x2="128.80" y2="721.40" stroke="#000" stroke-width="1.8" stroke-linecap="butt"/>
<line x1="145.40" y1="673.00" x2="145.40" y2="685.70" stroke="#000" stroke-width="1.8" stroke-linecap="butt"/>
<line x1="140.90" y1="673.00" x2="149.90" y2="673.00" stroke="#000" stroke-width="1.8" stroke-linecap="butt"/>
<line x1="140.90" y1="685.70" x2="149.90" y2="685.70" stroke="#000" stroke-width="1.8" stroke-linecap="butt"/>
<line x1="167.30" y1="655.40" x2="167.30" y2="687.40" stroke="#000" stroke-width="1.8" stroke-linecap="butt"/>
<line x1="162.80" y1="655.40" x2="171.80" y2="655.40" stroke="#000" stroke-width="1.8" stroke-linecap="butt"/>
<line x1="162.80" y1="687.40" x2="171.80" y2="687.40" stroke="#000" stroke-width="1.8" stroke-linecap="butt"/>
<line x1="189.10" y1="625.50" x2="189.10" y2="667.00" stroke="#000" stroke-width="1.8" stroke-linecap="butt"/>
<line x1="184.60" y1="625.50" x2="193.60" y2="625.50" stroke="#000" stroke-width="1.8" stroke-linecap="butt"/>
<line x1="184.60" y1="667.00" x2="193.60" y2="667.00" stroke="#000" stroke-width="1.8" stroke-linecap="butt"/>
<line x1="210.60" y1="649.90" x2="210.60" y2="690.90" stroke="#000" stroke-width="1.8" stroke-linecap="butt"/>
<line x1="206.10" y1="649.90" x2="215.10" y2="649.90" stroke="#000" stroke-width="1.8" stroke-linecap="butt"/>
<line x1="206.10" y1="690.90" x2="215.10" y2="690.90" stroke="#000" stroke-width="1.8" stroke-linecap="butt"/>
<line x1="232.30" y1="649.90" x2="232.30" y2="700.10" stroke="#000" stroke-width="1.8" stroke-linecap="butt"/>
<line x1="227.80" y1="649.90" x2="236.80" y2="649.90" stroke="#000" stroke-width="1.8" stroke-linecap="butt"/>
<line x1="227.80" y1="700.10" x2="236.80" y2="700.10" stroke="#000" stroke-width="1.8" stroke-linecap="butt"/>
<rect x="97.80" y="700.00" width="8.40" height="8.40" fill="#0a0a0a"/>
<rect x="120.10" y="709.00" width="8.40" height="8.40" fill="#0a0a0a"/>
<rect x="141.20" y="675.40" width="8.40" height="8.40" fill="#0a0a0a"/>
<rect x="163.10" y="667.20" width="8.40" height="8.40" fill="#0a0a0a"/>
<rect x="184.90" y="642.00" width="8.40" height="8.40" fill="#0a0a0a"/>
<rect x="206.40" y="666.40" width="8.40" height="8.40" fill="#0a0a0a"/>
<rect x="228.10" y="670.80" width="8.40" height="8.40" fill="#0a0a0a"/>
<line x1="124.30" y1="674.10" x2="124.30" y2="691.30" stroke="#000" stroke-width="1.8" stroke-linecap="butt"/>
<line x1="119.80" y1="674.10" x2="128.80" y2="674.10" stroke="#000" stroke-width="1.8" stroke-linecap="butt"/>
<line x1="119.80" y1="691.30" x2="128.80" y2="691.30" stroke="#000" stroke-width="1.8" stroke-linecap="butt"/>
<line x1="145.40" y1="630.20" x2="145.40" y2="661.30" stroke="#000" stroke-width="1.8" stroke-linecap="butt"/>
<line x1="140.90" y1="630.20" x2="149.90" y2="630.20" stroke="#000" stroke-width="1.8" stroke-linecap="butt"/>
<line x1="140.90" y1="661.30" x2="149.90" y2="661.30" stroke="#000" stroke-width="1.8" stroke-linecap="butt"/>
<line x1="167.20" y1="586.00" x2="167.20" y2="625.50" stroke="#000" stroke-width="1.8" stroke-linecap="butt"/>
<line x1="162.70" y1="586.00" x2="171.70" y2="586.00" stroke="#000" stroke-width="1.8" stroke-linecap="butt"/>
<line x1="162.70" y1="625.50" x2="171.70" y2="625.50" stroke="#000" stroke-width="1.8" stroke-linecap="butt"/>
<line x1="189.10" y1="543.30" x2="189.10" y2="589.60" stroke="#000" stroke-width="1.8" stroke-linecap="butt"/>
<line x1="184.60" y1="543.30" x2="193.60" y2="543.30" stroke="#000" stroke-width="1.8" stroke-linecap="butt"/>
<line x1="184.60" y1="589.60" x2="193.60" y2="589.60" stroke="#000" stroke-width="1.8" stroke-linecap="butt"/>
<line x1="210.60" y1="550.60" x2="210.60" y2="596.20" stroke="#000" stroke-width="1.8" stroke-linecap="butt"/>
<line x1="206.10" y1="550.60" x2="215.10" y2="550.60" stroke="#000" stroke-width="1.8" stroke-linecap="butt"/>
<line x1="206.10" y1="596.20" x2="215.10" y2="596.20" stroke="#000" stroke-width="1.8" stroke-linecap="butt"/>
<line x1="232.30" y1="554.30" x2="232.30" y2="607.90" stroke="#000" stroke-width="1.8" stroke-linecap="butt"/>
<line x1="227.80" y1="554.30" x2="236.80" y2="554.30" stroke="#000" stroke-width="1.8" stroke-linecap="butt"/>
<line x1="227.80" y1="607.90" x2="236.80" y2="607.90" stroke="#000" stroke-width="1.8" stroke-linecap="butt"/>
<rect x="98.60" y="701.10" width="6.80" height="6.80" fill="#fff" stroke="#000" stroke-width="1.6"/>
<rect x="120.90" y="679.20" width="6.80" height="6.80" fill="#fff" stroke="#000" stroke-width="1.6"/>
<rect x="142.00" y="642.50" width="6.80" height="6.80" fill="#fff" stroke="#000" stroke-width="1.6"/>
<rect x="163.80" y="602.60" width="6.80" height="6.80" fill="#fff" stroke="#000" stroke-width="1.6"/>
<rect x="185.70" y="563.60" width="6.80" height="6.80" fill="#fff" stroke="#000" stroke-width="1.6"/>
<rect x="207.20" y="570.40" width="6.80" height="6.80" fill="#fff" stroke="#000" stroke-width="1.6"/>
<rect x="228.90" y="577.70" width="6.80" height="6.80" fill="#fff" stroke="#000" stroke-width="1.6"/>
<line x1="121.50" y1="664.90" x2="127.10" y2="664.90" stroke="#222" stroke-width="1.1" stroke-linecap="butt"/>
<line x1="122.90" y1="662.48" x2="125.70" y2="667.32" stroke="#222" stroke-width="1.1" stroke-linecap="butt"/>
<line x1="125.70" y1="662.48" x2="122.90" y2="667.32" stroke="#222" stroke-width="1.1" stroke-linecap="butt"/>
<line x1="164.40" y1="577.20" x2="170.00" y2="577.20" stroke="#222" stroke-width="1.1" stroke-linecap="butt"/>
<line x1="165.80" y1="574.78" x2="168.60" y2="579.62" stroke="#222" stroke-width="1.1" stroke-linecap="butt"/>
<line x1="168.60" y1="574.78" x2="165.80" y2="579.62" stroke="#222" stroke-width="1.1" stroke-linecap="butt"/>
<line x1="186.30" y1="535.30" x2="191.90" y2="535.30" stroke="#222" stroke-width="1.1" stroke-linecap="butt"/>
<line x1="187.70" y1="532.88" x2="190.50" y2="537.72" stroke="#222" stroke-width="1.1" stroke-linecap="butt"/>
<line x1="190.50" y1="532.88" x2="187.70" y2="537.72" stroke="#222" stroke-width="1.1" stroke-linecap="butt"/>
<line x1="207.80" y1="542.70" x2="213.40" y2="542.70" stroke="#222" stroke-width="1.1" stroke-linecap="butt"/>
<line x1="209.20" y1="540.28" x2="212.00" y2="545.12" stroke="#222" stroke-width="1.1" stroke-linecap="butt"/>
<line x1="212.00" y1="540.28" x2="209.20" y2="545.12" stroke="#222" stroke-width="1.1" stroke-linecap="butt"/>
<line x1="229.50" y1="545.80" x2="235.10" y2="545.80" stroke="#222" stroke-width="1.1" stroke-linecap="butt"/>
<line x1="230.90" y1="543.38" x2="233.70" y2="548.22" stroke="#222" stroke-width="1.1" stroke-linecap="butt"/>
<line x1="233.70" y1="543.38" x2="230.90" y2="548.22" stroke="#222" stroke-width="1.1" stroke-linecap="butt"/>
<rect x="91.60" y="532.90" width="7.00" height="7.00" fill="#fff" stroke="#000" stroke-width="1.6"/>
<text x="101.74" y="541.20" font-size="11.6" fill="#111" textLength="69.85" lengthAdjust="spacingAndGlyphs">Liarozole diet</text>
<rect x="90.85" y="550.55" width="8.50" height="8.50" fill="#0a0a0a"/>
<text x="101.78" y="559.30" font-size="11.6" fill="#111" textLength="46.80" lengthAdjust="spacingAndGlyphs">Base diet</text>
<line x1="306.80" y1="528.30" x2="306.80" y2="729.60" stroke="#000" stroke-width="2.2" stroke-linecap="butt"/>
<line x1="305.80" y1="728.70" x2="477.90" y2="728.70" stroke="#000" stroke-width="2.1" stroke-linecap="butt"/>
<line x1="299.60" y1="528.90" x2="306.80" y2="528.90" stroke="#000" stroke-width="1.9" stroke-linecap="butt"/>
<text x="279.21" y="534.19" font-size="14.5" fill="#111" textLength="17.20" lengthAdjust="spacingAndGlyphs">70</text>
<line x1="299.60" y1="565.22" x2="306.80" y2="565.22" stroke="#000" stroke-width="1.9" stroke-linecap="butt"/>
<text x="279.22" y="570.51" font-size="14.5" fill="#111" textLength="17.19" lengthAdjust="spacingAndGlyphs">60</text>
<line x1="299.60" y1="601.54" x2="306.80" y2="601.54" stroke="#000" stroke-width="1.9" stroke-linecap="butt"/>
<text x="279.39" y="606.83" font-size="14.5" fill="#111" textLength="17.01" lengthAdjust="spacingAndGlyphs">50</text>
<line x1="299.60" y1="637.86" x2="306.80" y2="637.86" stroke="#000" stroke-width="1.9" stroke-linecap="butt"/>
<text x="279.65" y="643.15" font-size="14.5" fill="#111" textLength="16.73" lengthAdjust="spacingAndGlyphs">40</text>
<line x1="299.60" y1="674.18" x2="306.80" y2="674.18" stroke="#000" stroke-width="1.9" stroke-linecap="butt"/>
<text x="279.42" y="679.47" font-size="14.5" fill="#111" textLength="16.98" lengthAdjust="spacingAndGlyphs">30</text>
<line x1="299.60" y1="710.50" x2="306.80" y2="710.50" stroke="#000" stroke-width="1.9" stroke-linecap="butt"/>
<text x="279.22" y="715.79" font-size="14.5" fill="#111" textLength="17.18" lengthAdjust="spacingAndGlyphs">20</text>
<line x1="328.40" y1="728.70" x2="328.40" y2="735.60" stroke="#000" stroke-width="1.8" stroke-linecap="butt"/>
<line x1="350.13" y1="728.70" x2="350.13" y2="733.40" stroke="#000" stroke-width="1.8" stroke-linecap="butt"/>
<line x1="371.86" y1="728.70" x2="371.86" y2="735.60" stroke="#000" stroke-width="1.8" stroke-linecap="butt"/>
<line x1="393.59" y1="728.70" x2="393.59" y2="733.40" stroke="#000" stroke-width="1.8" stroke-linecap="butt"/>
<line x1="415.32" y1="728.70" x2="415.32" y2="735.60" stroke="#000" stroke-width="1.8" stroke-linecap="butt"/>
<line x1="437.05" y1="728.70" x2="437.05" y2="733.40" stroke="#000" stroke-width="1.8" stroke-linecap="butt"/>
<line x1="458.78" y1="728.70" x2="458.78" y2="735.60" stroke="#000" stroke-width="1.8" stroke-linecap="butt"/>
<text x="324.14" y="751.39" font-size="14.5" fill="#111" textLength="8.42" lengthAdjust="spacingAndGlyphs">8</text>
<text x="363.44" y="751.39" font-size="14.5" fill="#111" textLength="16.96" lengthAdjust="spacingAndGlyphs">10</text>
<text x="407.53" y="751.39" font-size="14.5" fill="#111" textLength="15.68" lengthAdjust="spacingAndGlyphs">12</text>
<text x="450.45" y="751.39" font-size="14.5" fill="#111" textLength="16.79" lengthAdjust="spacingAndGlyphs">14</text>
<text x="371.14" y="769.90" font-size="15" fill="#111" textLength="42.56" lengthAdjust="spacingAndGlyphs">Weeks</text>
<polyline points="328.80,577.30 372.30,634.00 415.50,661.80 459.00,674.40" fill="none" stroke="#111" stroke-width="1.8" stroke-linejoin="miter"/>
<polyline points="328.80,560.90 372.30,586.70 415.50,621.70 459.00,648.50" fill="none" stroke="#111" stroke-width="1.8" stroke-linejoin="miter"/>
<line x1="328.80" y1="572.50" x2="328.80" y2="582.00" stroke="#000" stroke-width="1.8" stroke-linecap="butt"/>
<line x1="324.30" y1="572.50" x2="333.30" y2="572.50" stroke="#000" stroke-width="1.8" stroke-linecap="butt"/>
<line x1="324.30" y1="582.00" x2="333.30" y2="582.00" stroke="#000" stroke-width="1.8" stroke-linecap="butt"/>
<line x1="372.30" y1="622.00" x2="372.30" y2="646.60" stroke="#000" stroke-width="1.8" stroke-linecap="butt"/>
<line x1="367.80" y1="622.00" x2="376.80" y2="622.00" stroke="#000" stroke-width="1.8" stroke-linecap="butt"/>
<line x1="367.80" y1="646.60" x2="376.80" y2="646.60" stroke="#000" stroke-width="1.8" stroke-linecap="butt"/>
<line x1="415.50" y1="650.20" x2="415.50" y2="674.40" stroke="#000" stroke-width="1.8" stroke-linecap="butt"/>
<line x1="411.00" y1="650.20" x2="420.00" y2="650.20" stroke="#000" stroke-width="1.8" stroke-linecap="butt"/>
<line x1="411.00" y1="674.40" x2="420.00" y2="674.40" stroke="#000" stroke-width="1.8" stroke-linecap="butt"/>
<line x1="459.00" y1="660.60" x2="459.00" y2="687.20" stroke="#000" stroke-width="1.8" stroke-linecap="butt"/>
<line x1="454.50" y1="660.60" x2="463.50" y2="660.60" stroke="#000" stroke-width="1.8" stroke-linecap="butt"/>
<line x1="454.50" y1="687.20" x2="463.50" y2="687.20" stroke="#000" stroke-width="1.8" stroke-linecap="butt"/>
<rect x="324.60" y="573.10" width="8.40" height="8.40" fill="#0a0a0a"/>
<rect x="368.10" y="629.80" width="8.40" height="8.40" fill="#0a0a0a"/>
<rect x="411.30" y="657.60" width="8.40" height="8.40" fill="#0a0a0a"/>
<rect x="454.80" y="670.20" width="8.40" height="8.40" fill="#0a0a0a"/>
<line x1="372.30" y1="580.20" x2="372.30" y2="593.50" stroke="#000" stroke-width="1.8" stroke-linecap="butt"/>
<line x1="367.80" y1="580.20" x2="376.80" y2="580.20" stroke="#000" stroke-width="1.8" stroke-linecap="butt"/>
<line x1="367.80" y1="593.50" x2="376.80" y2="593.50" stroke="#000" stroke-width="1.8" stroke-linecap="butt"/>
<line x1="415.50" y1="613.30" x2="415.50" y2="630.90" stroke="#000" stroke-width="1.8" stroke-linecap="butt"/>
<line x1="411.00" y1="613.30" x2="420.00" y2="613.30" stroke="#000" stroke-width="1.8" stroke-linecap="butt"/>
<line x1="411.00" y1="630.90" x2="420.00" y2="630.90" stroke="#000" stroke-width="1.8" stroke-linecap="butt"/>
<line x1="459.00" y1="636.50" x2="459.00" y2="660.60" stroke="#000" stroke-width="1.8" stroke-linecap="butt"/>
<line x1="454.50" y1="636.50" x2="463.50" y2="636.50" stroke="#000" stroke-width="1.8" stroke-linecap="butt"/>
<line x1="454.50" y1="660.60" x2="463.50" y2="660.60" stroke="#000" stroke-width="1.8" stroke-linecap="butt"/>
<rect x="325.40" y="557.50" width="6.80" height="6.80" fill="#fff" stroke="#000" stroke-width="1.6"/>
<rect x="368.90" y="583.30" width="6.80" height="6.80" fill="#fff" stroke="#000" stroke-width="1.6"/>
<rect x="412.10" y="618.30" width="6.80" height="6.80" fill="#fff" stroke="#000" stroke-width="1.6"/>
<rect x="455.60" y="645.10" width="6.80" height="6.80" fill="#fff" stroke="#000" stroke-width="1.6"/>
<line x1="366.40" y1="565.70" x2="372.00" y2="565.70" stroke="#222" stroke-width="1.1" stroke-linecap="butt"/>
<line x1="367.80" y1="563.28" x2="370.60" y2="568.12" stroke="#222" stroke-width="1.1" stroke-linecap="butt"/>
<line x1="370.60" y1="563.28" x2="367.80" y2="568.12" stroke="#222" stroke-width="1.1" stroke-linecap="butt"/>
<line x1="372.60" y1="565.70" x2="378.20" y2="565.70" stroke="#222" stroke-width="1.1" stroke-linecap="butt"/>
<line x1="374.00" y1="563.28" x2="376.80" y2="568.12" stroke="#222" stroke-width="1.1" stroke-linecap="butt"/>
<line x1="376.80" y1="563.28" x2="374.00" y2="568.12" stroke="#222" stroke-width="1.1" stroke-linecap="butt"/>
<line x1="409.60" y1="601.90" x2="415.20" y2="601.90" stroke="#222" stroke-width="1.1" stroke-linecap="butt"/>
<line x1="411.00" y1="599.48" x2="413.80" y2="604.32" stroke="#222" stroke-width="1.1" stroke-linecap="butt"/>
<line x1="413.80" y1="599.48" x2="411.00" y2="604.32" stroke="#222" stroke-width="1.1" stroke-linecap="butt"/>
<line x1="415.80" y1="601.90" x2="421.40" y2="601.90" stroke="#222" stroke-width="1.1" stroke-linecap="butt"/>
<line x1="417.20" y1="599.48" x2="420.00" y2="604.32" stroke="#222" stroke-width="1.1" stroke-linecap="butt"/>
<line x1="420.00" y1="599.48" x2="417.20" y2="604.32" stroke="#222" stroke-width="1.1" stroke-linecap="butt"/>
<rect x="390.60" y="532.95" width="7.00" height="7.00" fill="#fff" stroke="#000" stroke-width="1.6"/>
<text x="400.63" y="540.90" font-size="11.6" fill="#111" textLength="70.05" lengthAdjust="spacingAndGlyphs">Liarozole diet</text>
<rect x="389.85" y="550.40" width="8.50" height="8.50" fill="#0a0a0a"/>
<text x="400.68" y="559.00" font-size="11.6" fill="#111" textLength="47.01" lengthAdjust="spacingAndGlyphs">Base diet</text>
<text transform="translate(44.00,634.04) rotate(-90)" x="0" y="0" font-size="15" fill="#111" textLength="231.55" lengthAdjust="spacingAndGlyphs">Percentage change in body weight</text>
<text transform="translate(271.30,556.18) rotate(-90)" x="0" y="0" font-size="15" fill="#111" textLength="75.29" lengthAdjust="spacingAndGlyphs">Hematocrit</text>
<text x="501.39" y="315.40" font-size="25.3" fill="#111" textLength="16.83" lengthAdjust="spacingAndGlyphs">D</text>
<line x1="560.00" y1="306.30" x2="560.00" y2="509.40" stroke="#000" stroke-width="2.2" stroke-linecap="butt"/>
<line x1="553.70" y1="508.40" x2="695.50" y2="508.40" stroke="#000" stroke-width="2.0" stroke-linecap="butt"/>
<line x1="553.40" y1="508.40" x2="560.00" y2="508.40" stroke="#000" stroke-width="1.9" stroke-linecap="butt"/>
<line x1="556.20" y1="486.10" x2="560.00" y2="486.10" stroke="#000" stroke-width="1.9" stroke-linecap="butt"/>
<line x1="553.40" y1="463.80" x2="560.00" y2="463.80" stroke="#000" stroke-width="1.9" stroke-linecap="butt"/>
<line x1="556.20" y1="441.50" x2="560.00" y2="441.50" stroke="#000" stroke-width="1.9" stroke-linecap="butt"/>
<line x1="553.40" y1="419.20" x2="560.00" y2="419.20" stroke="#000" stroke-width="1.9" stroke-linecap="butt"/>
<line x1="556.20" y1="396.90" x2="560.00" y2="396.90" stroke="#000" stroke-width="1.9" stroke-linecap="butt"/>
<line x1="553.40" y1="374.60" x2="560.00" y2="374.60" stroke="#000" stroke-width="1.9" stroke-linecap="butt"/>
<line x1="556.20" y1="352.30" x2="560.00" y2="352.30" stroke="#000" stroke-width="1.9" stroke-linecap="butt"/>
<line x1="553.40" y1="330.00" x2="560.00" y2="330.00" stroke="#000" stroke-width="1.9" stroke-linecap="butt"/>
<line x1="556.20" y1="307.70" x2="560.00" y2="307.70" stroke="#000" stroke-width="1.9" stroke-linecap="butt"/>
<text x="531.92" y="335.19" font-size="14.5" fill="#111" textLength="17.39" lengthAdjust="spacingAndGlyphs">80</text>
<text x="531.80" y="379.79" font-size="14.5" fill="#111" textLength="17.51" lengthAdjust="spacingAndGlyphs">60</text>
<text x="532.25" y="424.39" font-size="14.5" fill="#111" textLength="17.05" lengthAdjust="spacingAndGlyphs">40</text>
<text x="531.81" y="468.99" font-size="14.5" fill="#111" textLength="17.51" lengthAdjust="spacingAndGlyphs">20</text>
<text x="540.80" y="512.89" font-size="14.5" fill="#111" textLength="8.49" lengthAdjust="spacingAndGlyphs">0</text>
<text transform="translate(524.70,458.32) rotate(-90)" x="0" y="0" font-size="15" fill="#111" textLength="83.83" lengthAdjust="spacingAndGlyphs">Tumor Count</text>
<line x1="593.50" y1="508.40" x2="593.50" y2="514.60" stroke="#000" stroke-width="2.0" stroke-linecap="butt"/>
<line x1="648.80" y1="508.40" x2="648.80" y2="514.60" stroke="#000" stroke-width="2.0" stroke-linecap="butt"/>
<text x="577.89" y="532.90" font-size="14.5" fill="#111" textLength="30.92" lengthAdjust="spacingAndGlyphs">Base</text>
<text x="580.14" y="551.30" font-size="14.5" fill="#111" textLength="25.38" lengthAdjust="spacingAndGlyphs">diet</text>
<text x="615.58" y="532.90" font-size="14.5" fill="#111" textLength="67.47" lengthAdjust="spacingAndGlyphs">Talarozole</text>
<text x="635.94" y="551.30" font-size="14.5" fill="#111" textLength="25.48" lengthAdjust="spacingAndGlyphs">diet</text>
<line x1="593.40" y1="361.80" x2="647.80" y2="361.80" stroke="#000" stroke-width="1.6" stroke-linecap="butt"/>
<line x1="616.80" y1="355.30" x2="623.60" y2="355.30" stroke="#222" stroke-width="1.2" stroke-linecap="butt"/>
<line x1="618.50" y1="352.36" x2="621.90" y2="358.24" stroke="#222" stroke-width="1.2" stroke-linecap="butt"/>
<line x1="621.90" y1="352.36" x2="618.50" y2="358.24" stroke="#222" stroke-width="1.2" stroke-linecap="butt"/>
<rect x="589.10" y="381.10" width="8.40" height="8.40" fill="#0a0a0a"/>
<rect x="596.20" y="388.00" width="8.40" height="8.40" fill="#0a0a0a"/>
<rect x="573.70" y="392.20" width="8.40" height="8.40" fill="#0a0a0a"/>
<rect x="588.70" y="394.80" width="8.40" height="8.40" fill="#0a0a0a"/>
<rect x="603.60" y="394.80" width="8.40" height="8.40" fill="#0a0a0a"/>
<rect x="588.90" y="412.80" width="8.40" height="8.40" fill="#0a0a0a"/>
<rect x="603.60" y="424.00" width="8.40" height="8.40" fill="#0a0a0a"/>
<rect x="575.40" y="434.80" width="8.40" height="8.40" fill="#0a0a0a"/>
<rect x="588.90" y="430.60" width="8.40" height="8.40" fill="#0a0a0a"/>
<rect x="588.90" y="444.20" width="8.40" height="8.40" fill="#0a0a0a"/>
<rect x="603.60" y="457.70" width="8.40" height="8.40" fill="#0a0a0a"/>
<rect x="588.90" y="466.20" width="8.40" height="8.40" fill="#0a0a0a"/>
<line x1="569.70" y1="422.30" x2="615.90" y2="422.30" stroke="#000" stroke-width="1.8" stroke-linecap="butt"/>
<rect x="644.00" y="379.90" width="6.60" height="6.60" fill="#fff" stroke="#000" stroke-width="1.8"/>
<rect x="644.00" y="411.40" width="6.60" height="6.60" fill="#fff" stroke="#000" stroke-width="1.8"/>
<rect x="644.00" y="424.70" width="6.60" height="6.60" fill="#fff" stroke="#000" stroke-width="1.8"/>
<rect x="636.80" y="453.90" width="6.60" height="6.60" fill="#fff" stroke="#000" stroke-width="1.8"/>
<rect x="659.00" y="458.30" width="6.60" height="6.60" fill="#fff" stroke="#000" stroke-width="1.8"/>
<rect x="629.20" y="465.00" width="6.60" height="6.60" fill="#fff" stroke="#000" stroke-width="1.8"/>
<rect x="644.00" y="465.70" width="6.60" height="6.60" fill="#fff" stroke="#000" stroke-width="1.8"/>
<rect x="629.20" y="480.60" width="6.60" height="6.60" fill="#fff" stroke="#000" stroke-width="1.8"/>
<rect x="644.00" y="487.70" width="6.60" height="6.60" fill="#fff" stroke="#000" stroke-width="1.8"/>
<rect x="659.00" y="485.20" width="6.60" height="6.60" fill="#fff" stroke="#000" stroke-width="1.8"/>
<line x1="624.30" y1="454.00" x2="669.90" y2="454.00" stroke="#000" stroke-width="1.8" stroke-linecap="butt"/>
</svg>
</body></html>
